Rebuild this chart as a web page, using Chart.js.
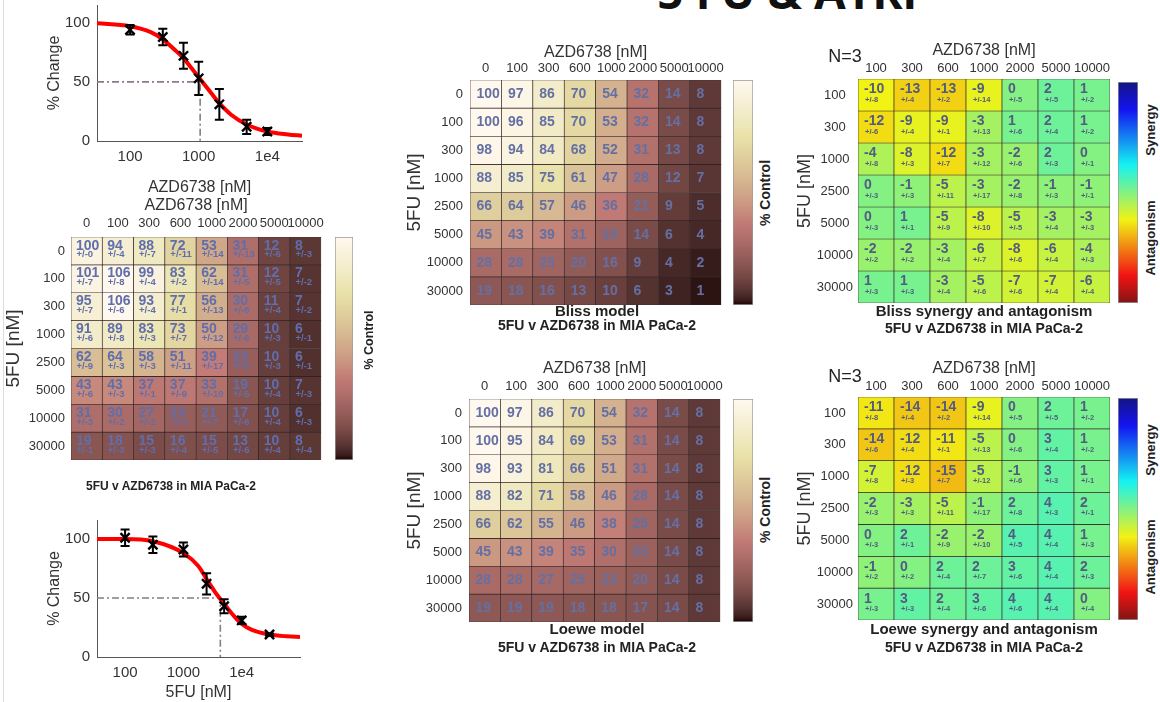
<!DOCTYPE html>
<html>
<head>
<meta charset="utf-8">
<title>5 FU &amp; ATRi</title>
<script src="https://cdn.jsdelivr.net/npm/chart.js@4.4.1/dist/chart.umd.min.js"></script>
<style>
html,body{margin:0;padding:0;background:#fff;}
body{position:relative;width:1160px;height:702px;overflow:hidden;font-family:"Liberation Sans",Arial,Helvetica,sans-serif;color:#222;}
canvas{position:absolute;}
.lbl{position:absolute;white-space:nowrap;line-height:1;transform:translate(-50%,-50%);color:#222;}
.rot{transform:translate(-50%,-50%) rotate(-90deg);}
#bigtitle{position:absolute;left:787px;top:-32px;transform:translateX(-50%);font-family:"Open Sans",sans-serif;font-weight:700;font-size:46px;line-height:46px;color:#111;white-space:nowrap;}
#edge{position:absolute;left:3px;top:0;width:1px;height:702px;background:#dcdcdc;}
</style>
</head>
<body>
<div id="edge"></div>
<div id="bigtitle">5 FU &amp; ATRi</div>
<script>
// ---------------- DATA ----------------
const azdLabels = ['0','100','300','600','1000','2000','5000','10000'];
const fuLabels = ['0','100','300','1000','2500','5000','10000','30000'];
const azdSynLabels = ['100','300','600','1000','2000','5000','10000'];
const fuSynLabels = ['100','300','1000','2500','5000','10000','30000'];

// observed % control (rows = 5FU, cols = AZD6738)
const observedMean = [
  [100,94,88,72,53,31,12,8],
  [101,106,99,83,62,31,12,7],
  [95,106,93,77,56,30,11,7],
  [91,89,83,73,50,29,10,6],
  [62,64,58,51,39,23,10,6],
  [43,43,37,37,33,19,10,7],
  [31,30,27,23,21,17,10,6],
  [19,18,15,16,15,13,10,8]
];
const observedErr = [
  [0,4,7,11,14,13,6,3],
  [7,8,4,2,14,5,5,2],
  [7,6,4,1,13,6,4,2],
  [6,8,3,7,12,6,3,1],
  [9,3,3,11,17,8,3,1],
  [6,3,1,9,10,5,4,3],
  [3,2,2,4,7,6,4,3],
  [1,3,3,4,5,6,4,4]
];
const blissMean = [
  [100,97,86,70,54,32,14,8],
  [100,96,85,70,53,32,14,8],
  [98,94,84,68,52,31,13,8],
  [88,85,75,61,47,28,12,7],
  [66,64,57,46,36,21,9,5],
  [45,43,39,31,24,14,6,4],
  [28,28,25,20,16,9,4,2],
  [19,18,16,13,10,6,3,1]
];
const loeweMean = [
  [100,97,86,70,54,32,14,8],
  [100,95,84,69,53,31,14,8],
  [98,93,81,66,51,31,14,8],
  [88,82,71,58,46,28,14,8],
  [66,62,55,46,38,25,14,8],
  [45,43,39,35,30,23,14,8],
  [28,28,27,25,23,20,14,8],
  [19,19,19,18,18,17,14,8]
];
const blissSyn = [
  [-10,-13,-13,-9,0,2,1],
  [-12,-9,-9,-3,1,2,1],
  [-4,-8,-12,-3,-2,2,0],
  [0,-1,-5,-3,-2,-1,-1],
  [0,1,-5,-8,-5,-3,-3],
  [-2,-2,-3,-6,-8,-6,-4],
  [1,1,-3,-5,-7,-7,-6]
];
const blissSynErr = [
  [8,4,2,14,5,5,2],
  [6,4,1,13,6,4,2],
  [8,3,7,12,6,3,1],
  [3,3,11,17,8,3,1],
  [3,1,9,10,5,4,3],
  [2,2,4,7,6,4,3],
  [3,3,4,6,6,4,4]
];
const loeweSyn = [
  [-11,-14,-14,-9,0,2,1],
  [-14,-12,-11,-5,0,3,1],
  [-7,-12,-15,-5,-1,3,1],
  [-2,-3,-5,-1,2,4,2],
  [0,2,-2,-2,4,4,1],
  [-1,0,2,2,3,4,2],
  [1,3,2,3,4,4,0]
];
const loeweSynErr = [
  [8,4,2,14,5,5,2],
  [6,4,1,13,6,4,2],
  [8,3,7,12,6,3,1],
  [3,3,11,17,8,3,1],
  [3,1,9,10,5,4,3],
  [2,2,4,7,6,4,3],
  [3,3,4,6,6,4,4]
];

// single-agent dose response
const azdPointX = [100,300,600,1000,2000,5000,10000];
const azdPointMean = [94,88,72,53,31,12,8];
const azdPointErr = [4,7,11,14,13,6,3];
const azdFitX = [33,100,200,300,450,600,800,1000,1500,2000,3000,5000,10000,20000,32000];
const azdFitY = [99.5,97,92,86,77,70,61,54,41,32,22,14,8,5.5,4.5];
const azdIC50 = 1050;

const fuPointX = [100,300,1000,2500,5000,10000,30000];
const fuPointMean = [101,95,91,62,43,31,19];
const fuPointErr = [7,7,6,9,6,3,1];
const fuFitX = [33,100,300,1000,1800,2500,3500,5000,7000,10000,15000,30000,60000,100000];
const fuFitY = [100,100,98,88,77,66,55,45,36,28,23,19,17.5,17];
const fuIC50 = 4300;

const curveXTicks = [100,1000,10000];
const curveXTickLabels = ['100','1000','1e4'];
const curveYTicks = [0,50,100];

// ---------------- STYLE HELPERS ----------------
const FONT = '"Liberation Sans", Arial, Helvetica, sans-serif';
Chart.defaults.font.family = FONT;
Chart.defaults.color = '#333';
Chart.defaults.animation = false;

const clamp = v => Math.max(0, Math.min(1, v));
function pinkColor(t) {
  t = clamp(t);
  const k = t * 63 + 1;
  const hr = Math.min(1, k / 24), hg = clamp((k - 24) / 24), hb = clamp((k - 48) / 16);
  const r = Math.sqrt((2 * t + hr) / 3), g = Math.sqrt((2 * t + hg) / 3), b = Math.sqrt((2 * t + hb) / 3);
  return `rgb(${Math.round(r*255)},${Math.round(g*248)},${Math.round(b*238)})`;
}
function jetColor(u) {
  u = clamp(u);
  const r = clamp(1.5 - Math.abs(4 * u - 3)), g = clamp(1.5 - Math.abs(4 * u - 2)), b = clamp(1.5 - Math.abs(4 * u - 1));
  const f = c => Math.round(c * 222 + 20);
  return `rgb(${f(r)},${f(g)},${f(b)})`;
}
const synLimit = 40;
const synColor = v => jetColor(0.5 - v / (2 * synLimit));

function place(id, x, y, w, h) {
  const c = document.createElement('canvas');
  c.id = id; c.width = w; c.height = h;
  c.style.left = x + 'px'; c.style.top = y + 'px';
  c.style.width = w + 'px'; c.style.height = h + 'px';
  document.body.appendChild(c);
  return c;
}
function label(text, cx, cy, size, bold, rot) {
  const d = document.createElement('div');
  d.className = 'lbl' + (rot ? ' rot' : '');
  d.textContent = text;
  d.style.left = cx + 'px'; d.style.top = cy + 'px';
  d.style.fontSize = size + 'px';
  d.style.fontWeight = bold ? '700' : '400';
  document.body.appendChild(d);
}

// ---------------- HEATMAP ----------------
function cellTextPlugin(o) {
  return {
    id: 'cellText',
    afterDatasetsDraw(chart) {
      const ctx = chart.ctx;
      ctx.save();
      ctx.fillStyle = o.textColor;
      ctx.textAlign = 'left';
      ctx.textBaseline = 'middle';
      chart.data.datasets.forEach((ds, r) => {
        chart.getDatasetMeta(r).data.forEach((bar, c) => {
          const p = bar.getProps(['x', 'y', 'base', 'width'], true);
          const top = Math.min(p.y, p.base), h = Math.abs(p.base - p.y), left = p.x - p.width / 2;
          ctx.font = `bold ${o.mainSize}px ${FONT}`;
          ctx.fillText(String(o.values[r][c]), left + o.textDx, top + (o.errs ? o.mainDy * h : h / 2));
          if (o.errs) {
            ctx.font = `bold ${o.errSize}px ${FONT}`;
            ctx.fillText('+/-' + o.errs[r][c], left + o.errDx, top + o.errDy * h);
          }
        });
      });
      ctx.restore();
    }
  };
}

// the y scale reserves (label height / 2 + padding) below the grid, so padB >= 16
function heatmap(o) {
  const padB = 16;
  const w = o.padL + o.gw + o.padR, h = o.padT + o.gh + padB;
  const cv = place(o.id, o.x, o.y, w, h);
  const nR = o.rows.length;
  const datasets = o.values.map((row, r) => ({
    data: row.map(() => [r - 0.5, r + 0.5]),
    backgroundColor: row.map(v => o.color(v)),
    borderColor: 'rgba(30,15,15,0.85)',
    borderWidth: 0.7,
    borderSkipped: false,
    grouped: false,
    barPercentage: 1,
    categoryPercentage: 1
  }));
  return new Chart(cv, {
    type: 'bar',
    data: { labels: o.cols, datasets },
    options: {
      responsive: false, animation: false,
      layout: { padding: { left: 0, top: 0, right: o.padR, bottom: padB } },
      plugins: { legend: { display: false }, tooltip: { enabled: false } },
      scales: {
        x: {
          position: 'top', offset: true,
          grid: { display: false, drawTicks: false }, border: { display: false },
          ticks: { font: { size: 13 }, color: '#333', padding: o.xtp, maxRotation: 0, minRotation: 0, autoSkip: false },
          title: { display: true, text: 'AZD6738 [nM]', font: { size: 16 }, color: '#333', padding: { top: o.xTitlePad, bottom: 0 } },
          afterFit: s => { s.height = o.padT; }
        },
        y: {
          type: 'linear', min: -0.5, max: nR - 0.5, reverse: true,
          grid: { display: false, drawTicks: false }, border: { display: false },
          afterBuildTicks: s => { s.ticks = o.rows.map((_, i) => ({ value: i })); },
          ticks: { callback: v => o.rows[v], font: { size: 13 }, color: '#333', padding: o.ytp, crossAlign: o.crossAlign || 'near' },
          title: { display: true, text: '5FU [nM]', font: { size: o.yTitleSize }, color: '#333', padding: { top: o.yTitlePad, bottom: 0 } },
          afterFit: s => { s.width = o.padL; }
        }
      }
    },
    plugins: [cellTextPlugin(o)]
  });
}

function colorbar(id, x, y, w, h, vmin, vmax, colorFn) {
  const cv = place(id, x, y, w, h);
  return new Chart(cv, {
    type: 'bar',
    data: { labels: [''], datasets: [{
      data: [[vmin, vmax]],
      backgroundColor: ctx => {
        const chart = ctx.chart;
        if (!chart.chartArea) return '#fff';
        const ys = chart.scales.y;
        const g = chart.ctx.createLinearGradient(0, ys.getPixelForValue(vmin), 0, ys.getPixelForValue(vmax));
        for (let i = 0; i <= 48; i++) g.addColorStop(i / 48, colorFn(vmin + (vmax - vmin) * i / 48));
        return g;
      },
      borderColor: '#9a9a9a', borderWidth: 1, borderSkipped: false,
      barPercentage: 1, categoryPercentage: 1
    }]},
    options: {
      responsive: false, animation: false,
      layout: { padding: 0 },
      plugins: { legend: { display: false }, tooltip: { enabled: false } },
      scales: { x: { display: false }, y: { display: false, min: vmin, max: vmax } }
    }
  });
}

// ---------------- DOSE RESPONSE ----------------
const errorBarPlugin = {
  id: 'errorBars',
  afterDatasetsDraw(chart) {
    const ctx = chart.ctx, ys = chart.scales.y;
    chart.data.datasets.forEach((ds, di) => {
      if (!ds.errors) return;
      const meta = chart.getDatasetMeta(di);
      ctx.save();
      ctx.strokeStyle = '#000'; ctx.lineWidth = 2;
      meta.data.forEach((pt, i) => {
        const v = ds.data[i].y, e = ds.errors[i];
        const y1 = ys.getPixelForValue(v + e), y2 = ys.getPixelForValue(v - e);
        ctx.beginPath();
        ctx.moveTo(pt.x, y1); ctx.lineTo(pt.x, y2);
        ctx.moveTo(pt.x - 4.5, y1); ctx.lineTo(pt.x + 4.5, y1);
        ctx.moveTo(pt.x - 4.5, y2); ctx.lineTo(pt.x + 4.5, y2);
        ctx.stroke();
      });
      ctx.restore();
    });
  }
};

// top padding must be >= y-scale label half-height + tick padding (~16)
function doseCurve(o) {
  const padT = 17;
  const cv = place(o.id, o.x, o.plotTop - padT, o.w, o.h);
  return new Chart(cv, {
    type: 'scatter',
    data: { datasets: [
      { type: 'scatter', data: o.px.map((x, i) => ({ x, y: o.py[i] })), errors: o.pe,
        pointStyle: 'crossRot', pointRadius: 6.5, borderColor: '#000', backgroundColor: '#000', borderWidth: 2.4, order: 0 },
      { type: 'line', data: o.fx.map((x, i) => ({ x, y: o.fy[i] })), borderColor: '#ff0000', borderWidth: 4,
        pointRadius: 0, cubicInterpolationMode: 'monotone', fill: false, order: 1 },
      { type: 'line', data: [{ x: o.xmin, y: 50 }, { x: o.ic50, y: 50 }, { x: o.ic50, y: 0 }], borderColor: '#8a7a8c',
        borderWidth: 1.6, borderDash: [7, 3, 2, 3], pointRadius: 0, tension: 0, fill: false, order: 2 }
    ]},
    options: {
      responsive: false, animation: false,
      layout: { padding: { left: 0, top: padT, right: o.padR, bottom: 0 } },
      plugins: { legend: { display: false }, tooltip: { enabled: false } },
      scales: {
        x: {
          type: 'logarithmic', min: o.xmin, max: o.xmax,
          grid: { display: false, drawTicks: false }, border: { display: true, color: '#555', width: 1 },
          afterBuildTicks: s => { s.ticks = curveXTicks.map(v => ({ value: v })); },
          ticks: { callback: v => curveXTickLabels[curveXTicks.indexOf(v)], font: { size: 15 }, color: '#333', padding: 7, maxRotation: 0, autoSkip: false },
          title: { display: true, text: o.xTitle, font: { size: 16 }, color: '#333', padding: { top: 0, bottom: o.xTitlePad } },
          afterFit: s => { s.height = o.xAxisH; }
        },
        y: {
          min: 0, max: o.ymax,
          grid: { display: false, drawTicks: false }, border: { display: true, color: '#555', width: 1 },
          afterBuildTicks: s => { s.ticks = curveYTicks.map(v => ({ value: v })); },
          ticks: { font: { size: 15 }, color: '#333', padding: 7 },
          title: { display: true, text: '% Change', font: { size: 16 }, color: '#333', padding: { top: 45, bottom: 0 } },
          afterFit: s => { s.width = 97; }
        }
      }
    },
    plugins: [errorBarPlugin]
  });
}

// ---------------- BUILD ----------------
// plot area: x 97..302, y 5..141
doseCurve({ id: 'azdCurve', x: 0, plotTop: 5, w: 320, h: 212, padR: 18, xAxisH: 59, xTitlePad: 3,
  xmin: 33, xmax: 32000, ymax: 115, xTitle: 'AZD6738 [nM]',
  px: azdPointX, py: azdPointMean, pe: azdPointErr, fx: azdFitX, fy: azdFitY, ic50: azdIC50 });

// plot area: x 97..300, y 520..657
doseCurve({ id: 'fuCurve', x: 0, plotTop: 520, w: 320, h: 199, padR: 20, xAxisH: 45, xTitlePad: 0,
  xmin: 33, xmax: 100000, ymax: 116, xTitle: '5FU [nM]',
  px: fuPointX, py: fuPointMean, pe: fuPointErr, fx: fuFitX, fy: fuFitY, ic50: fuIC50 });

// observed heatmap
heatmap({ id: 'obs', x: 0, y: 190, padL: 71, padT: 47, gw: 254, gh: 223, padR: 5,
  cols: azdLabels, rows: fuLabels, values: observedMean, errs: observedErr,
  color: v => pinkColor(v / 106), textColor: 'rgb(96,110,172)',
  mainSize: 14, errSize: 9.5, textDx: 5, errDx: 5.5, mainDy: 0.31, errDy: 0.64,
  xtp: 6, ytp: 6, xTitlePad: 6, yTitlePad: 2, yTitleSize: 19 });
colorbar('obsBar', 335, 237, 18, 223, 0, 106, v => pinkColor(v / 106));

// Bliss model
heatmap({ id: 'bliss', x: 400, y: 40, padL: 70, padT: 40, gw: 253, gh: 225, padR: 5,
  cols: azdLabels, rows: fuLabels, values: blissMean, errs: null,
  color: v => pinkColor(v / 100), textColor: 'rgb(100,112,164)',
  mainSize: 14, textDx: 6.5,
  xtp: 4, ytp: 7, xTitlePad: 2.5, yTitlePad: 3.5, yTitleSize: 19 });
colorbar('blissBar', 733, 80, 20, 225, 0, 100, v => pinkColor(v / 100));

// Loewe model
heatmap({ id: 'loewe', x: 400, y: 355, padL: 69, padT: 44, gw: 254, gh: 223, padR: 5,
  cols: azdLabels, rows: fuLabels, values: loeweMean, errs: null,
  color: v => pinkColor(v / 100), textColor: 'rgb(100,112,164)',
  mainSize: 14, textDx: 6.5,
  xtp: 5, ytp: 7, xTitlePad: 3.5, yTitlePad: 3.5, yTitleSize: 19 });
colorbar('loeweBar', 733, 399, 20, 223, 0, 100, v => pinkColor(v / 100));

// Bliss synergy
heatmap({ id: 'blissSyn', x: 790, y: 35, padL: 68, padT: 44, gw: 252, gh: 224, padR: 5,
  cols: azdSynLabels, rows: fuSynLabels, values: blissSyn, errs: blissSynErr,
  color: synColor, textColor: 'rgb(82,92,128)',
  mainSize: 14, errSize: 7.5, textDx: 6, errDx: 7, mainDy: 0.33, errDy: 0.65,
  xtp: 3, ytp: 5, crossAlign: 'center', xTitlePad: 5.5, yTitlePad: 4, yTitleSize: 18 });
colorbar('blissSynBar', 1118, 82, 20, 221, -synLimit, synLimit, synColor);

// Loewe synergy
heatmap({ id: 'loeweSyn', x: 790, y: 355, padL: 68, padT: 42, gw: 252, gh: 223, padR: 5,
  cols: azdSynLabels, rows: fuSynLabels, values: loeweSyn, errs: loeweSynErr,
  color: synColor, textColor: 'rgb(82,92,128)',
  mainSize: 14, errSize: 7.5, textDx: 6, errDx: 7, mainDy: 0.33, errDy: 0.65,
  xtp: 3, ytp: 5, crossAlign: 'center', xTitlePad: 3.5, yTitlePad: 4, yTitleSize: 18 });
colorbar('loeweSynBar', 1118, 398, 20, 222, -synLimit, synLimit, synColor);

// ---------------- TEXT ----------------
label('5FU v AZD6738 in MIA PaCa-2', 171, 486, 12, true);
label('% Control', 369, 340, 12.5, true, true);

label('% Control', 765, 193, 14, true, true);
label('Bliss model', 597, 310, 15, true);
label('5FU v AZD6738 in MIA PaCa-2', 597, 325, 14, true);

label('% Control', 765, 510, 14, true, true);
label('Loewe model', 597, 628, 15, true);
label('5FU v AZD6738 in MIA PaCa-2', 597, 647, 14, true);

label('N=3', 845, 56, 18, false);
label('Synergy', 1150, 130, 13, true, true);
label('Antagonism', 1150, 238, 13, true, true);
label('Bliss synergy and antagonism', 984, 310, 15, true);
label('5FU v AZD6738 in MIA PaCa-2', 984, 328, 14, true);

label('N=3', 845, 376, 18, false);
label('Synergy', 1150, 450, 13, true, true);
label('Antagonism', 1150, 557, 13, true, true);
label('Loewe synergy and antagonism', 984, 628, 15, true);
label('5FU v AZD6738 in MIA PaCa-2', 984, 647, 14, true);
</script>
</body>
</html>
